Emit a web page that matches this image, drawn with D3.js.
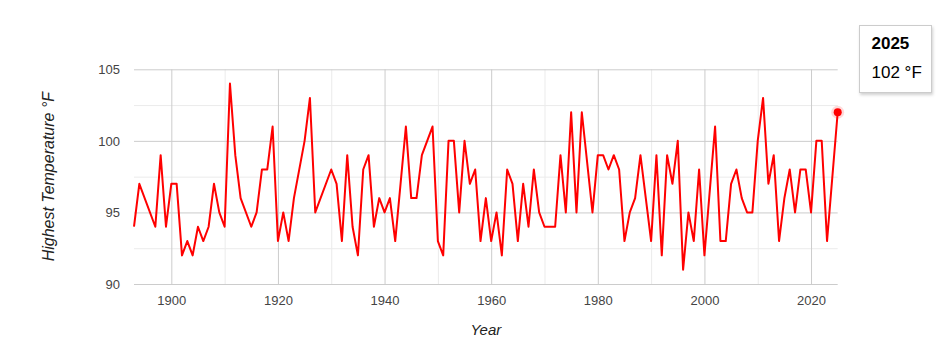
<!DOCTYPE html>
<html>
<head>
<meta charset="utf-8">
<script src="https://cdn.jsdelivr.net/npm/d3@7"></script>
<style>
  body { margin: 0; background: #fff; font-family: Arial, "Liberation Sans", sans-serif; }
</style>
</head>
<body>
<div id="chart"></div>
<script>
// chart data
const first_year = 1893
const max_temps = [
  94, 97, null, null, 94, 99, 94,                  // 1893-1899
  97, 97, 92, 93, 92, 94, 93, 94, 97, 95,          // 1900s
  94, 104, 99, 96, null, 94, 95, 98, 98, 101,      // 1910s
  93, 95, 93, 96, null, 100, 103, 95, null, null,  // 1920s
  98, 97, 93, 99, 94, 92, 98, 99, 94, 96,          // 1930s
  95, 96, 93, null, 101, 96, 96, 99, 100, 101,     // 1940s
  93, 92, 100, 100, 95, 100, 97, 98, 93, 96,       // 1950s
  93, 95, 92, 98, 97, 93, 97, 94, 98, 95,          // 1960s
  94, 94, 94, 99, 95, 102, 95, 102, null, 95,      // 1970s
  99, 99, 98, 99, 98, 93, 95, 96, 99, 96,          // 1980s
  93, 99, 92, 99, 97, 100, 91, 95, 93, 98,         // 1990s
  92, null, 101, 93, 93, 97, 98, 96, 95, 95,       // 2000s
  100, 103, 97, 99, 93, 96, 98, 95, 98, 98,        // 2010s
  95, 100, 100, 93, null, 102                      // 2020s
]
const x_ticks = [1900, 1920, 1940, 1960, 1980, 2000, 2020]
const x_minor_ticks = [1910, 1930, 1950, 1970, 1990, 2010]
const y_ticks = [90, 95, 100, 105]
const y_minor_ticks = [92.5, 97.5, 102.5]
const x_title = "Year"
const y_title = "Highest Temperature °F"
const unit = "°F"

const chart_width = 948
const chart_height = 353
const plot_left = 134, plot_right = 837.7, plot_top = 69.3, plot_bottom = 284

const points = max_temps
  .map((v, i) => [first_year + i, v])
  .filter((d) => d[1] !== null)
const last = points[points.length - 1]

const svg = d3.select("#chart")
  .append("svg")
  .attr("width", chart_width)
  .attr("height", chart_height)

const defs = svg.append("defs")
const shadow = defs.append("filter").attr("id", "shadow")
  .attr("x", "-20%").attr("y", "-20%").attr("width", "150%").attr("height", "150%")
shadow.append("feDropShadow")
  .attr("dx", 1).attr("dy", 2).attr("stdDeviation", 1.5)
  .attr("flood-color", "#000").attr("flood-opacity", 0.18)

const x_scale = d3.scaleLinear()
  .domain([first_year, last[0]])
  .range([plot_left, plot_right])

const y_scale = d3.scaleLinear()
  .domain([y_ticks[0], y_ticks[y_ticks.length - 1]])
  .range([plot_bottom, plot_top])

const inner_h = plot_bottom - plot_top
const inner_w = plot_right - plot_left

// minor gridlines
svg.append("g")
  .attr("transform", `translate(0,${plot_bottom})`)
  .call(d3.axisBottom(x_scale).tickValues(x_minor_ticks).tickSize(-inner_h).tickFormat(""))
  .call((g) => g.select(".domain").remove())
  .call((g) => g.selectAll("line").attr("stroke", "#ebebeb"))

svg.append("g")
  .attr("transform", `translate(${plot_left},0)`)
  .call(d3.axisLeft(y_scale).tickValues(y_minor_ticks).tickSize(-inner_w).tickFormat(""))
  .call((g) => g.select(".domain").remove())
  .call((g) => g.selectAll("line").attr("stroke", "#ebebeb"))

// major gridlines + labels
svg.append("g")
  .attr("transform", `translate(0,${plot_bottom})`)
  .call(d3.axisBottom(x_scale).tickValues(x_ticks).tickSize(-inner_h).tickFormat(d3.format("d")))
  .call((g) => g.select(".domain").remove())
  .call((g) => g.selectAll("line").attr("stroke", "#cccccc"))
  .call((g) => g.selectAll("text")
    .attr("y", 21)
    .attr("dy", 0)
    .attr("fill", "#444")
    .style("font-size", "13px")
    .style("font-family", "Arial, 'Liberation Sans', sans-serif"))

svg.append("g")
  .attr("transform", `translate(${plot_left},0)`)
  .call(d3.axisLeft(y_scale).tickValues(y_ticks).tickSize(-inner_w).tickFormat(d3.format("d")))
  .call((g) => g.select(".domain").remove())
  .call((g) => g.selectAll("line").attr("stroke", "#cccccc"))
  .call((g) => g.selectAll("text")
    .attr("x", -14)
    .attr("dy", "0.35em")
    .attr("fill", "#444")
    .style("font-size", "13px")
    .style("font-family", "Arial, 'Liberation Sans', sans-serif"))

// axis titles
svg.append("text")
  .attr("x", (plot_left + plot_right) / 2)
  .attr("y", 335)
  .attr("text-anchor", "middle")
  .attr("fill", "#222")
  .style("font-size", "15px")
  .style("font-style", "italic")
  .text(x_title)

svg.append("text")
  .attr("transform", `translate(54,${(plot_top + plot_bottom) / 2}) rotate(-90)`)
  .attr("text-anchor", "middle")
  .attr("fill", "#222")
  .style("font-size", "16px")
  .style("font-style", "italic")
  .text(y_title)

// line
const line = d3.line()
  .x((d) => x_scale(d[0]))
  .y((d) => y_scale(d[1]))

svg.append("path")
  .attr("d", line(points))
  .attr("fill", "none")
  .attr("stroke", "#ff0000")
  .attr("stroke-width", 2)
  .attr("stroke-linejoin", "round")

// highlighted last point
svg.append("circle")
  .attr("cx", x_scale(last[0]))
  .attr("cy", y_scale(last[1]))
  .attr("r", 6.5)
  .attr("fill", "#ff0000")
  .attr("fill-opacity", 0.15)
svg.append("circle")
  .attr("cx", x_scale(last[0]))
  .attr("cy", y_scale(last[1]))
  .attr("r", 4)
  .attr("fill", "#ff0000")

// tooltip
const tip = svg.append("g").attr("transform", "translate(859.5,25.5)")
tip.append("rect")
  .attr("width", 72)
  .attr("height", 67)
  .attr("fill", "#fff")
  .attr("stroke", "#cccccc")
  .attr("filter", "url(#shadow)")
tip.append("text")
  .attr("x", 12)
  .attr("y", 23)
  .attr("fill", "#000")
  .style("font-size", "17px")
  .style("font-weight", "bold")
  .text(last[0])
tip.append("text")
  .attr("x", 12)
  .attr("y", 52)
  .attr("fill", "#000")
  .style("font-size", "17px")
  .text(`${last[1]} ${unit}`)
</script>
</body>
</html>
